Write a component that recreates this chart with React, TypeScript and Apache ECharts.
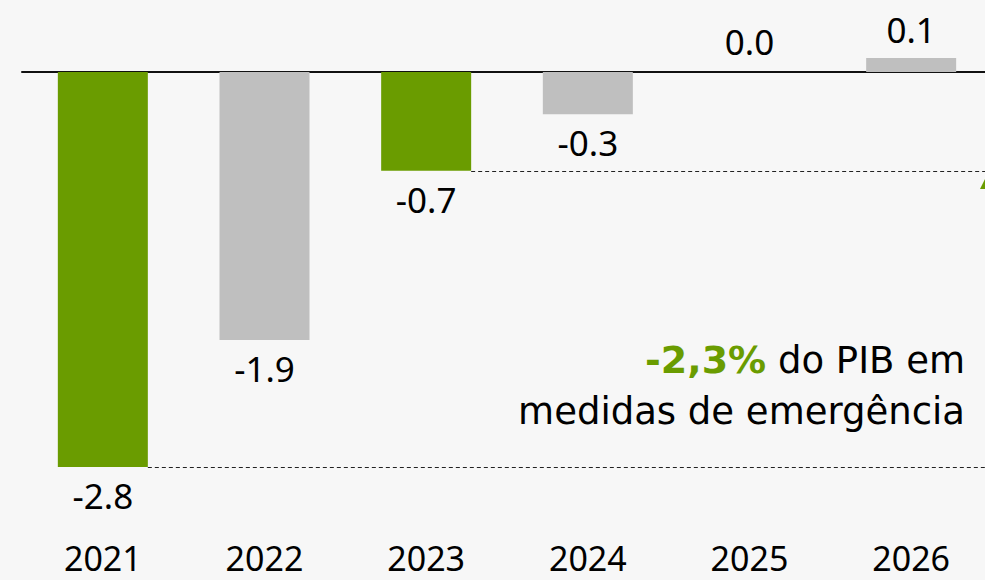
import React, { useEffect, useRef } from "react";
import * as echarts from "echarts";

const categories = ["2021", "2022", "2023", "2024", "2025", "2026"];
const values = [-2.8, -1.9, -0.7, -0.3, 0.0, 0.1];
const barColors = ["#6a9c00", "#bfbfbf", "#6a9c00", "#bfbfbf", "#bfbfbf", "#bfbfbf"];
const annotationHighlight = "-2,3%";
const annotationLine1 = "do PIB em";
const annotationLine2 = "medidas de emergência";
// dashed reference lines: [category index of bar whose right edge starts the line, value]
const refLines: [number, number][] = [
  [2, -0.7],
  [0, -2.8],
];

const FONT = "'Noto Sans', 'DejaVu Sans', sans-serif";
const TFONT = "'DejaVu Sans', sans-serif";
const GREEN = "#6a9c00";

export default function App() {
  const ref = useRef<HTMLDivElement>(null);
  useEffect(() => {
    if (!ref.current) return;
    const chart = echarts.init(ref.current, undefined, { renderer: "svg" });
    const k = 395 / 2.8;
    const yMax = 0.5;
    const yMin = -3.1;
    const barWidth = 90;
    const labelBase = {
      show: true,
      position: "outside",
      distance: 11,
      fontSize: 35,
      color: "#000",
      fontFamily: FONT,
      formatter: (p: any) => Number(p.value).toFixed(1),
    };
    chart.setOption({
      animation: false,
      backgroundColor: "#f7f7f7",
      grid: {
        left: 22,
        width: 970,
        top: 72 - yMax * k,
        height: (yMax - yMin) * k,
        containLabel: false,
      },
      xAxis: [
        {
          type: "category",
          data: categories,
          position: "bottom",
          axisLine: { show: false, onZero: false },
          axisTick: { show: false },
          axisLabel: {
            margin: 35,
            fontSize: 34,
            lineHeight: 28,
            color: "#000",
            fontFamily: FONT,
          },
        },
        {
          type: "category",
          data: categories,
          position: "bottom",
          axisLine: { show: true, onZero: true, lineStyle: { color: "#111", width: 2 } },
          axisTick: { show: false },
          axisLabel: { show: false },
        },
      ],
      yAxis: {
        type: "value",
        min: yMin,
        max: yMax,
        show: false,
        splitLine: { show: false },
      },
      series: [
        {
          type: "bar",
          xAxisIndex: 0,
          barWidth,
          data: values.map((v, i) => ({
            value: v,
            itemStyle: { color: barColors[i] },
            label: v === 0 ? { position: "top", distance: 13 } : undefined,
          })),
          label: labelBase,
        },
      ],
    });

    const W = 1000;
    const graphics: any[] = [];
    refLines.forEach(([idx, v]) => {
      const cx = chart.convertToPixel({ xAxisIndex: 0 }, categories[idx]) as number;
      const y = Math.round(chart.convertToPixel({ yAxisIndex: 0 }, v) as number) + 0.5;
      graphics.push({
        type: "line",
        shape: { x1: cx + barWidth / 2, y1: y, x2: W, y2: y },
        style: { stroke: "#222", lineWidth: 1, lineDash: [4, 3] },
        z: 1,
      });
    });
    graphics.push({
      type: "polygon",
      shape: { points: [[980, 189], [985, 179], [985, 189]] },
      style: { fill: GREEN },
    });
    graphics.push({
      type: "text",
      right: 35,
      top: 341,
      style: {
        text: `{g|${annotationHighlight}}{b| ${annotationLine1}}`,
        rich: {
          g: { fontSize: 38, fontWeight: "bold", fill: GREEN, fontFamily: TFONT },
          b: { fontSize: 37, fill: "#000", fontFamily: TFONT },
        },
      },
    });
    graphics.push({
      type: "text",
      right: 35,
      top: 393,
      style: {
        text: annotationLine2,
        fontSize: 37,
        fill: "#000",
        fontFamily: TFONT,
      },
    });
    chart.setOption({ graphic: graphics });

    return () => chart.dispose();
  }, []);
  return (
    <div
      ref={ref}
      style={{ position: "fixed", left: 0, top: 0, width: 1000, height: 580 }}
    />
  );
}
